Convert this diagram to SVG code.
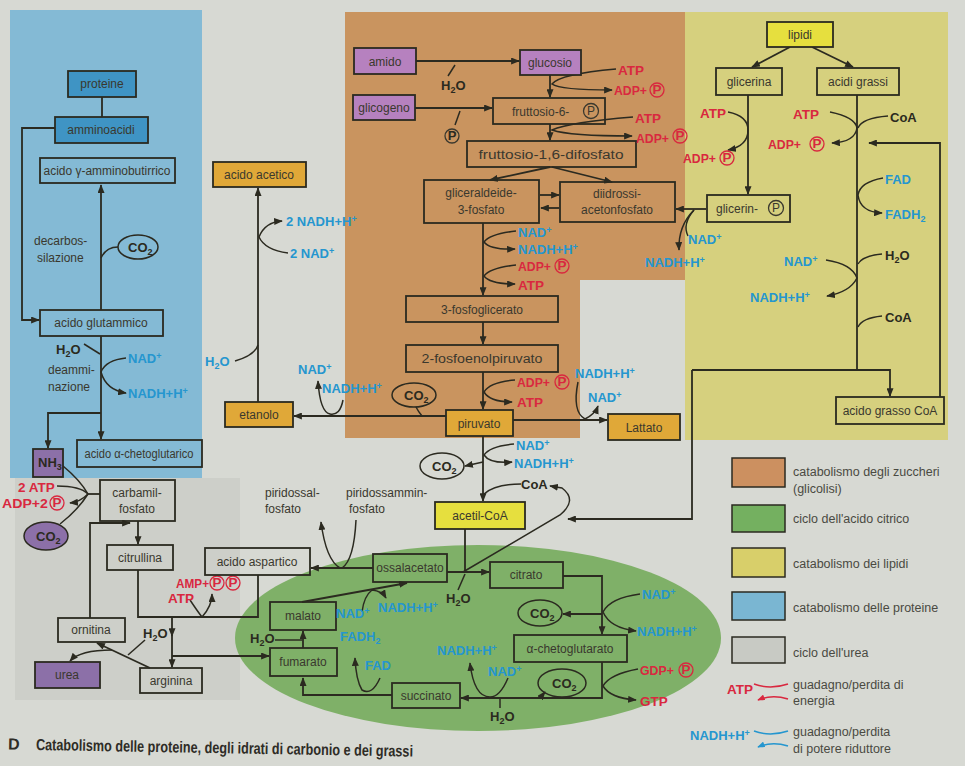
<svg xmlns="http://www.w3.org/2000/svg" width="965" height="766" viewBox="0 0 965 766">
<defs>
<marker id="a" viewBox="0 0 10 8" refX="9" refY="4" markerWidth="9" markerHeight="7" markerUnits="userSpaceOnUse" orient="auto"><path d="M0,0 L10,4 L0,8 z" fill="#2b2a20"/></marker>
<marker id="ar" viewBox="0 0 10 8" refX="9" refY="4" markerWidth="8" markerHeight="6" markerUnits="userSpaceOnUse" orient="auto"><path d="M0,0 L10,4 L0,8 z" fill="#d9283f"/></marker>
<marker id="ab" viewBox="0 0 10 8" refX="9" refY="4" markerWidth="8" markerHeight="6" markerUnits="userSpaceOnUse" orient="auto"><path d="M0,0 L10,4 L0,8 z" fill="#2596cf"/></marker>
</defs>
<style>
.ln{fill:none;stroke:#2b2a20;stroke-width:1.8}
.cf{fill:none;stroke:#2b2a20;stroke-width:1.5}
.bx{fill:none;stroke:#2b2a20;stroke-width:1.8}
.pb{fill:#3f94c4}
.pp{fill:#b681bf}
.pu{fill:#8c70a8}
.po{fill:#e0a838}
.py{fill:#e6df3e}
.t{font-family:"Liberation Sans Narrow","Liberation Sans",Arial,sans-serif;font-size:12px;fill:#3a382e;text-anchor:middle}
.l{font-family:"Liberation Sans Narrow","Liberation Sans",Arial,sans-serif;font-size:12px;fill:#3a382e}
.r{font-family:"Liberation Sans Narrow","Liberation Sans",Arial,sans-serif;font-weight:bold;font-size:13.5px;fill:#d9283f}
.b{font-family:"Liberation Sans Narrow","Liberation Sans",Arial,sans-serif;font-weight:bold;font-size:13px;fill:#2596cf}
.k{font-family:"Liberation Sans Narrow","Liberation Sans",Arial,sans-serif;font-weight:bold;font-size:13px;fill:#2b2a20}
.g{font-family:"Liberation Sans",Arial,sans-serif;font-size:12.5px;fill:#4a4a42}
.pc{fill:none;stroke:#d9283f;stroke-width:1.3}
.pk{fill:none;stroke:#3a382e;stroke-width:1.3}
.s{font-size:9px}
</style>

<!-- background areas -->
<rect x="0" y="0" width="965" height="766" fill="#d7d9d3"/>
<rect x="15" y="478" width="225" height="222" fill="#cdcfc9"/>
<rect x="10" y="10" width="192" height="468" fill="#84bad5"/>
<path d="M345,12 H685 V280 H580 V438 H345 Z" fill="#c9945f"/>
<rect x="685" y="12" width="263" height="428" fill="#d6d07e"/>
<ellipse cx="478" cy="638" rx="243" ry="93" fill="#7fb068"/>

<!-- connectors -->
<g id="connectors">
<path class="ln" d="M102,97 V117"/>
<path class="ln" d="M55,128 H22 V320 H39" marker-end="url(#a)"/>
<path class="ln" d="M101,310 V185" marker-end="url(#a)"/>
<path class="cf" d="M101,258 Q106,247 118,247"/>
<path class="ln" d="M101,336 V439" marker-end="url(#a)"/>
<path class="cf" d="M84,344 L100,354"/>
<path class="cf" d="M126,358 Q106,360 101,372 Q106,390 126,393" marker-end="url(#a)"/>
<path class="ln" d="M101,413 H48 V448" marker-end="url(#a)"/>
<path class="cf" d="M63,466 Q80,480 88,494"/>
<path class="cf" d="M57,486 Q80,486 88,494"/>
<path class="cf" d="M88,494 Q80,502 70,503" marker-end="url(#a)"/>
<path class="cf" d="M60,524 Q78,510 88,494"/>
<path class="ln" d="M88,494 H100"/>
<path class="ln" d="M138,521 V544" marker-end="url(#a)"/>
<path class="ln" d="M90,618 V523 H130" marker-end="url(#a)"/>
<path class="ln" d="M138,570 V617 H258 V575"/>
<path class="cf" d="M190,600 Q198,612 202,617"/>
<path class="cf" d="M202,617 Q212,606 212,594" marker-end="url(#a)"/>
<path class="ln" d="M172,617 V636" marker-end="url(#a)"/>
<path class="ln" d="M172,634 V667" marker-end="url(#a)"/>
<path class="ln" d="M172,656 H269" marker-end="url(#a)"/>
<path class="ln" d="M150,668 L97,643" marker-end="url(#a)"/>
<path class="cf" d="M145,640 L128,655"/>
<path class="cf" d="M112,650 Q80,650 70,661" marker-end="url(#a)"/>
<path class="ln" d="M373,568 H311" marker-end="url(#a)"/>
<path class="cf" d="M340,568 Q326,560 321,522" marker-end="url(#a)"/>
<path class="cf" d="M356,520 Q354,560 342,568"/>
<path class="ln" d="M465,529 V572"/>
<path class="ln" d="M447,572 H489" marker-end="url(#a)"/>
<path class="cf" d="M458,590 L465,574"/>
<path class="cf" d="M463,572 L560,515 Q578,500 562,488 L550,486" marker-end="url(#a)"/>
<path class="ln" d="M692,370 V519 H568" marker-end="url(#a)"/>
<path class="ln" d="M563,576 H602 V634" marker-end="url(#a)"/>
<path class="cf" d="M640,594 Q610,598 603,612 Q610,628 636,631" marker-end="url(#a)"/>
<path class="ln" d="M602,614 H563" marker-end="url(#a)"/>
<path class="ln" d="M602,662 V698 H461" marker-end="url(#a)"/>
<path class="cf" d="M638,669 Q610,674 603,686 Q610,698 636,700" marker-end="url(#a)"/>
<path class="cf" d="M540,698 L545,692" marker-end="url(#a)"/>
<path class="cf" d="M508,678 Q500,697 490,697 Q474,697 470,663" marker-end="url(#a)"/>
<path class="cf" d="M500,708 V699"/>
<path class="ln" d="M392,695 H303 V678" marker-end="url(#a)"/>
<path class="cf" d="M380,678 Q372,696 362,690 Q356,680 355,658" marker-end="url(#a)"/>
<path class="ln" d="M303,648 V631" marker-end="url(#a)"/>
<path class="cf" d="M275,640 H302"/>
<path class="ln" d="M302,602 L407,583" marker-end="url(#a)"/>
<path class="cf" d="M362,612 Q364,596 372,590 Q382,591 386,598" marker-end="url(#a)"/>
<path class="ln" d="M483,436 V501" marker-end="url(#a)"/>
<path class="cf" d="M514,444 Q490,446 484,455 Q490,464 512,462" marker-end="url(#a)"/>
<path class="cf" d="M483,462 L465,466" marker-end="url(#a)"/>
<path class="cf" d="M521,484 Q495,484 484,494"/>
<path class="ln" d="M446,416 H294" marker-end="url(#a)"/>
<path class="cf" d="M422,416 Q418,411 416,407"/>
<path class="cf" d="M343,400 Q340,416 330,414 Q320,412 318,381" marker-end="url(#a)"/>
<path class="ln" d="M258,402 V188" marker-end="url(#a)"/>
<path class="cf" d="M288,253 Q265,250 259,237 Q265,222 282,221" marker-end="url(#a)"/>
<path class="cf" d="M235,361 Q255,355 258,345"/>
<path class="ln" d="M513,420 H607" marker-end="url(#a)"/>
<path class="cf" d="M578,382 Q572,412 585,419 Q595,414 598,406" marker-end="url(#a)"/>
<path class="ln" d="M416,61 H519" marker-end="url(#a)"/>
<path class="cf" d="M455,65 L448,76"/>
<path class="ln" d="M415,108 H492" marker-end="url(#a)"/>
<path class="cf" d="M460,111 L455,125"/>
<path class="ln" d="M550,75 V97" marker-end="url(#a)"/>
<path class="cf" d="M616,69 Q560,74 552,84 Q560,90 612,90" marker-end="url(#a)"/>
<path class="ln" d="M550,124 V140" marker-end="url(#a)"/>
<path class="cf" d="M633,117 Q570,122 552,130 Q570,136 632,136" marker-end="url(#a)"/>
<path class="ln" d="M550,167 L490,180" marker-end="url(#a)"/>
<path class="ln" d="M552,167 L612,182" marker-end="url(#a)"/>
<path class="ln" d="M540,195 H559" marker-end="url(#a)"/>
<path class="ln" d="M559,208 H541" marker-end="url(#a)"/>
<path class="ln" d="M706,209 H676" marker-end="url(#a)"/>
<path class="cf" d="M688,236 Q682,224 694,210"/>
<path class="cf" d="M694,210 Q678,226 679,250" marker-end="url(#a)"/>
<path class="ln" d="M483,223 V295" marker-end="url(#a)"/>
<path class="cf" d="M516,231 Q490,234 484,242 Q490,250 515,249" marker-end="url(#a)"/>
<path class="cf" d="M516,265 Q490,268 484,276 Q490,284 515,284" marker-end="url(#a)"/>
<path class="ln" d="M483,322 V344" marker-end="url(#a)"/>
<path class="ln" d="M483,372 V409" marker-end="url(#a)"/>
<path class="cf" d="M515,380 Q490,382 484,392 Q490,402 512,402" marker-end="url(#a)"/>
<path class="ln" d="M790,47 L752,67" marker-end="url(#a)"/>
<path class="ln" d="M812,47 L853,67" marker-end="url(#a)"/>
<path class="ln" d="M748,95 V194" marker-end="url(#a)"/>
<path class="cf" d="M728,112 Q748,116 748,130 Q748,146 728,150" marker-end="url(#a)"/>
<path class="ln" d="M857,95 V370"/>
<path class="cf" d="M830,112 Q855,117 857,128 Q855,142 832,143" marker-end="url(#a)"/>
<path class="cf" d="M888,116 Q862,118 858,128"/>
<path class="cf" d="M883,178 Q860,182 858,195 Q860,212 882,213" marker-end="url(#a)"/>
<path class="cf" d="M882,254 Q862,256 858,264"/>
<path class="cf" d="M826,260 Q852,264 857,278 Q850,292 827,296" marker-end="url(#a)"/>
<path class="cf" d="M882,316 Q862,318 858,327"/>
<path class="ln" d="M692,370 H890 V396" marker-end="url(#a)"/>
<path class="ln" d="M940,397 V143 H869" marker-end="url(#a)"/>
</g>

<!-- protein nodes -->
<g id="n-proteine"><rect class="bx pb" x="68" y="71" width="68" height="26"/><text class="t" x="102" y="88">proteine</text></g>
<g id="n-amminoacidi"><rect class="bx pb" x="55" y="117" width="93" height="26"/><text class="t" x="101" y="134">amminoacidi</text></g>
<g id="n-gaba"><rect class="bx" x="40" y="158" width="135" height="25"/><text class="t" x="107" y="175" textLength="127" lengthAdjust="spacingAndGlyphs">acido γ-amminobutirrico</text></g>
<g id="n-co2a"><ellipse cx="138" cy="247" rx="20" ry="12" fill="none" stroke="#2b2a20" stroke-width="1.5"/><text class="k" x="128" y="252">CO<tspan class="s" dy="3">2</tspan></text></g>
<text class="l" x="34" y="245">decarbos-</text>
<text class="l" x="37" y="262">silazione</text>
<g id="n-glutammico"><rect class="bx" x="40" y="310" width="123" height="26"/><text class="t" x="101" y="327">acido glutammico</text></g>
<text class="k" x="56" y="354">H<tspan class="s" dy="3">2</tspan><tspan dy="-3">O</tspan></text>
<text class="l" x="48" y="374">deammi-</text>
<text class="l" x="48" y="391">nazione</text>
<text class="b" x="128" y="363">NAD<tspan class="s" dy="-4">+</tspan></text>
<text class="b" x="128" y="398">NADH+H<tspan class="s" dy="-4">+</tspan></text>
<g id="n-chetoglutarico"><rect class="bx" x="77" y="440" width="125" height="27"/><text class="t" x="139" y="458" textLength="109" lengthAdjust="spacingAndGlyphs">acido α-chetoglutarico</text></g>
<g id="n-nh3"><rect class="bx pu" x="33" y="449" width="30" height="28"/><text class="k" x="38" y="467">NH<tspan class="s" dy="3">3</tspan></text></g>

<!-- urea cycle -->
<text class="r" x="18" y="492">2 ATP</text>
<g><text class="r" x="2" y="508" textLength="46" lengthAdjust="spacingAndGlyphs">ADP+2</text><circle class="pc" cx="57" cy="503" r="7"/><text class="r" x="57" y="507" text-anchor="middle" font-size="10">P</text></g>
<g id="n-co2u"><ellipse class="pu" cx="46" cy="536" rx="22" ry="14" stroke="#2b2a20" stroke-width="1.5"/><text class="k" x="36" y="541">CO<tspan class="s" dy="3">2</tspan></text></g>
<g id="n-carbamil"><rect class="bx" x="100" y="480" width="75" height="41"/><text class="t" x="137" y="497">carbamil-</text><text class="t" x="137" y="513">fosfato</text></g>
<g id="n-citrullina"><rect class="bx" x="107" y="545" width="66" height="25"/><text class="t" x="140" y="562">citrullina</text></g>
<g id="n-ornitina"><rect class="bx" x="58" y="618" width="67" height="24"/><text class="t" x="91" y="634">ornitina</text></g>
<g id="n-arginina"><rect class="bx" x="140" y="668" width="62" height="25"/><text class="t" x="171" y="685">arginina</text></g>
<g id="n-urea"><rect class="bx pu" x="35" y="662" width="65" height="26"/><text class="t" x="67" y="679">urea</text></g>
<text class="k" x="143" y="638">H<tspan class="s" dy="3">2</tspan><tspan dy="-3">O</tspan></text>
<g><text class="r" x="176" y="588" textLength="33" lengthAdjust="spacingAndGlyphs">AMP+</text><circle class="pc" cx="217" cy="583" r="7"/><text class="r" x="217" y="587" text-anchor="middle" font-size="10">P</text><circle class="pc" cx="233" cy="583" r="7"/><text class="r" x="233" y="587" text-anchor="middle" font-size="10">P</text></g>
<text class="r" x="168" y="603">ATP</text>

<g id="n-aspartico"><rect class="bx" x="205" y="548" width="105" height="27" fill="#d7d9d3"/><text class="t" x="257" y="566">acido aspartico</text></g>
<text class="l" x="265" y="497">piridossal-</text>
<text class="l" x="265" y="513">fosfato</text>
<text class="l" x="346" y="497">piridossammin-</text>
<text class="l" x="349" y="513">fosfato</text>

<!-- citric cycle -->
<g id="n-ossalacetato"><rect class="bx" x="373" y="554" width="74" height="28"/><text class="t" x="410" y="572">ossalacetato</text></g>
<g id="n-citrato"><rect class="bx" x="490" y="562" width="73" height="26"/><text class="t" x="526" y="579">citrato</text></g>
<g id="n-acheto"><rect class="bx" x="514" y="635" width="113" height="27"/><text class="t" x="570" y="653">α-chetoglutarato</text></g>
<g id="n-succinato"><rect class="bx" x="392" y="683" width="68" height="25"/><text class="t" x="426" y="700">succinato</text></g>
<g id="n-fumarato"><rect class="bx" x="270" y="648" width="67" height="28"/><text class="t" x="303" y="666">fumarato</text></g>
<g id="n-malato"><rect class="bx" x="270" y="602" width="66" height="28"/><text class="t" x="303" y="620">malato</text></g>
<g id="n-acetilcoa"><rect class="bx py" x="435" y="502" width="90" height="27"/><text class="t" x="480" y="520">acetil-CoA</text></g>
<g id="n-co2c1"><ellipse cx="540" cy="613" rx="22" ry="13" fill="none" stroke="#2b2a20" stroke-width="1.5"/><text class="k" x="530" y="618">CO<tspan class="s" dy="3">2</tspan></text></g>
<g id="n-co2c2"><ellipse cx="562" cy="683" rx="24" ry="14" fill="none" stroke="#2b2a20" stroke-width="1.5"/><text class="k" x="552" y="688">CO<tspan class="s" dy="3">2</tspan></text></g>
<text class="k" x="446" y="603">H<tspan class="s" dy="3">2</tspan><tspan dy="-3">O</tspan></text>
<text class="k" x="490" y="721">H<tspan class="s" dy="3">2</tspan><tspan dy="-3">O</tspan></text>
<text class="k" x="250" y="643">H<tspan class="s" dy="3">2</tspan><tspan dy="-3">O</tspan></text>
<text class="k" x="521" y="489">CoA</text>
<text class="b" x="642" y="599">NAD<tspan class="s" dy="-4">+</tspan></text>
<text class="b" x="637" y="636">NADH+H<tspan class="s" dy="-4">+</tspan></text>
<g><text class="r" x="640" y="675" textLength="34" lengthAdjust="spacingAndGlyphs">GDP+</text><circle class="pc" cx="686" cy="670" r="7"/><text class="r" x="686" y="674" text-anchor="middle" font-size="10">P</text></g>
<text class="r" x="640" y="706">GTP</text>
<text class="b" x="437" y="655">NADH+H<tspan class="s" dy="-4">+</tspan></text>
<text class="b" x="488" y="676">NAD<tspan class="s" dy="-4">+</tspan></text>
<text class="b" x="340" y="641">FADH<tspan class="s" dy="3">2</tspan></text>
<text class="b" x="365" y="670">FAD</text>
<text class="b" x="336" y="618">NAD<tspan class="s" dy="-4">+</tspan></text>
<text class="b" x="378" y="612">NADH+H<tspan class="s" dy="-4">+</tspan></text>

<!-- pyruvate area -->
<g id="n-piruvato"><rect class="bx po" x="446" y="410" width="67" height="26"/><text class="t" x="479" y="428">piruvato</text></g>
<g id="n-lattato"><rect class="bx po" x="608" y="414" width="72" height="26"/><text class="t" x="644" y="432">Lattato</text></g>
<g id="n-etanolo"><rect class="bx po" x="225" y="402" width="68" height="25"/><text class="t" x="259" y="419">etanolo</text></g>
<g id="n-acetico"><rect class="bx po" x="213" y="162" width="93" height="25"/><text class="t" x="259" y="179">acido acetico</text></g>
<g id="n-co2p"><ellipse cx="414" cy="395" rx="22" ry="12" fill="none" stroke="#2b2a20" stroke-width="1.5"/><text class="k" x="404" y="400">CO<tspan class="s" dy="3">2</tspan></text></g>
<g id="n-co2d"><ellipse cx="442" cy="466" rx="22" ry="13" fill="none" stroke="#2b2a20" stroke-width="1.5"/><text class="k" x="432" y="471">CO<tspan class="s" dy="3">2</tspan></text></g>
<text class="b" x="516" y="450">NAD<tspan class="s" dy="-4">+</tspan></text>
<text class="b" x="514" y="468">NADH+H<tspan class="s" dy="-4">+</tspan></text>
<text class="b" x="298" y="374">NAD<tspan class="s" dy="-4">+</tspan></text>
<text class="b" x="322" y="393">NADH+H<tspan class="s" dy="-4">+</tspan></text>
<text class="b" x="286" y="226">2 NADH+H<tspan class="s" dy="-4">+</tspan></text>
<text class="b" x="290" y="258">2 NAD<tspan class="s" dy="-4">+</tspan></text>
<text class="b" x="205" y="366">H<tspan class="s" dy="3">2</tspan><tspan dy="-3">O</tspan></text>
<text class="b" x="575" y="378">NADH+H<tspan class="s" dy="-4">+</tspan></text>
<text class="b" x="588" y="402">NAD<tspan class="s" dy="-4">+</tspan></text>

<!-- glycolysis nodes -->
<g id="n-amido"><rect class="bx pp" x="354" y="48" width="62" height="26"/><text class="t" x="385" y="66">amido</text></g>
<g id="n-glucosio"><rect class="bx pp" x="520" y="50" width="61" height="25"/><text class="t" x="550" y="67">glucosio</text></g>
<g id="n-glicogeno"><rect class="bx pp" x="353" y="95" width="62" height="25"/><text class="t" x="384" y="112">glicogeno</text></g>
<text class="k" x="441" y="90">H<tspan class="s" dy="3">2</tspan><tspan dy="-3">O</tspan></text>
<g><circle class="pk" cx="452" cy="136" r="7"/><text class="k" x="452" y="140" text-anchor="middle" font-size="10">P</text></g>
<g id="n-f6p"><rect class="bx" x="493" y="98" width="112" height="26"/><text class="l" x="512" y="116">fruttosio-6-</text><circle class="pk" cx="591" cy="111" r="7.5"/><text class="t" x="591" y="115" font-size="10">P</text></g>
<g id="n-f16"><rect class="bx" x="467" y="141" width="169" height="26"/><text class="t" x="551" y="159" textLength="145" lengthAdjust="spacingAndGlyphs">fruttosio-1,6-difosfato</text></g>
<g id="n-g3p"><rect class="bx" x="424" y="180" width="115" height="43"/><text class="t" x="481" y="197">gliceraldeide-</text><text class="t" x="481" y="214">3-fosfato</text></g>
<g id="n-dhap"><rect class="bx" x="560" y="182" width="115" height="40"/><text class="t" x="617" y="198">diidrossi-</text><text class="t" x="617" y="214">acetonfosfato</text></g>
<g id="n-3pg"><rect class="bx" x="406" y="296" width="152" height="26"/><text class="t" x="482" y="314">3-fosfoglicerato</text></g>
<g id="n-pep"><rect class="bx" x="406" y="345" width="152" height="27"/><text class="t" x="482" y="363" textLength="121" lengthAdjust="spacingAndGlyphs">2-fosfoenolpiruvato</text></g>
<text class="r" x="618" y="75">ATP</text>
<g><text class="r" x="614" y="95" textLength="33" lengthAdjust="spacingAndGlyphs">ADP+</text><circle class="pc" cx="657" cy="90" r="7"/><text class="r" x="657" y="94" text-anchor="middle" font-size="10">P</text></g>
<text class="r" x="635" y="123">ATP</text>
<g><text class="r" x="636" y="143" textLength="33" lengthAdjust="spacingAndGlyphs">ADP+</text><circle class="pc" cx="680" cy="136" r="7"/><text class="r" x="680" y="140" text-anchor="middle" font-size="10">P</text></g>
<text class="b" x="518" y="237">NAD<tspan class="s" dy="-4">+</tspan></text>
<text class="b" x="518" y="254">NADH+H<tspan class="s" dy="-4">+</tspan></text>
<g><text class="r" x="518" y="271" textLength="33" lengthAdjust="spacingAndGlyphs">ADP+</text><circle class="pc" cx="562" cy="266" r="7"/><text class="r" x="562" y="270" text-anchor="middle" font-size="10">P</text></g>
<text class="r" x="518" y="290">ATP</text>
<g><text class="r" x="517" y="387" textLength="33" lengthAdjust="spacingAndGlyphs">ADP+</text><circle class="pc" cx="562" cy="382" r="7"/><text class="r" x="562" y="386" text-anchor="middle" font-size="10">P</text></g>
<text class="r" x="517" y="407">ATP</text>
<text class="b" x="688" y="244">NAD<tspan class="s" dy="-4">+</tspan></text>
<text class="b" x="645" y="267">NADH+H<tspan class="s" dy="-4">+</tspan></text>

<!-- lipid nodes -->
<g id="n-lipidi"><rect class="bx py" x="767" y="22" width="66" height="25"/><text class="t" x="800" y="39">lipidi</text></g>
<g id="n-glicerina"><rect class="bx" x="716" y="68" width="66" height="27"/><text class="t" x="749" y="86">glicerina</text></g>
<g id="n-acidigrassi"><rect class="bx" x="817" y="68" width="82" height="27"/><text class="t" x="858" y="86">acidi grassi</text></g>
<g id="n-glicerinp"><rect class="bx" x="707" y="195" width="83" height="27"/><text class="l" x="716" y="213">glicerin-</text><circle class="pk" cx="776" cy="208" r="7.5"/><text class="t" x="776" y="212" font-size="10">P</text></g>
<g id="n-acidograssocoa"><rect class="bx" x="836" y="397" width="108" height="27"/><text class="t" x="890" y="415">acido grasso CoA</text></g>
<text class="r" x="700" y="118">ATP</text>
<g><text class="r" x="683" y="163" textLength="33" lengthAdjust="spacingAndGlyphs">ADP+</text><circle class="pc" cx="727" cy="158" r="7"/><text class="r" x="727" y="162" text-anchor="middle" font-size="10">P</text></g>
<text class="r" x="793" y="119">ATP</text>
<text class="k" x="890" y="122">CoA</text>
<g><text class="r" x="768" y="149" textLength="33" lengthAdjust="spacingAndGlyphs">ADP+</text><circle class="pc" cx="817" cy="144" r="7"/><text class="r" x="817" y="148" text-anchor="middle" font-size="10">P</text></g>
<text class="b" x="885" y="184">FAD</text>
<text class="b" x="885" y="219">FADH<tspan class="s" dy="3">2</tspan></text>
<text class="k" x="885" y="260">H<tspan class="s" dy="3">2</tspan><tspan dy="-3">O</tspan></text>
<text class="b" x="784" y="266">NAD<tspan class="s" dy="-4">+</tspan></text>
<text class="b" x="750" y="302">NADH+H<tspan class="s" dy="-4">+</tspan></text>
<text class="k" x="885" y="322">CoA</text>

<!-- legend -->
<g id="legend">
<rect x="732" y="458" width="53" height="29" fill="#cc9060" stroke="#2b2a20" stroke-width="1.5"/>
<rect x="732" y="505" width="53" height="27" fill="#74b060" stroke="#2b2a20" stroke-width="1.5"/>
<rect x="732" y="548" width="53" height="29" fill="#d8cf6a" stroke="#2b2a20" stroke-width="1.5"/>
<rect x="732" y="592" width="53" height="28" fill="#7ab6d2" stroke="#2b2a20" stroke-width="1.5"/>
<rect x="732" y="637" width="53" height="26" fill="#c8cac4" stroke="#2b2a20" stroke-width="1.5"/>
<text class="g" x="793" y="476">catabolismo degli zuccheri</text>
<text class="g" x="793" y="493">(glicolisi)</text>
<text class="g" x="793" y="523">ciclo dell'acido citrico</text>
<text class="g" x="793" y="568">catabolismo dei lipidi</text>
<text class="g" x="793" y="612">catabolismo delle proteine</text>
<text class="g" x="793" y="657">ciclo dell'urea</text>
<text class="r" x="727" y="694">ATP</text>
<path d="M754,684 Q770,690 788,684" fill="none" stroke="#d9283f" stroke-width="1.6"/>
<path d="M788,699 Q772,694 758,700" fill="none" stroke="#d9283f" stroke-width="1.6" marker-end="url(#ar)"/>
<text class="g" x="793" y="689">guadagno/perdita di</text>
<text class="g" x="793" y="705">energia</text>
<text class="b" x="690" y="740">NADH+H<tspan class="s" dy="-4">+</tspan></text>
<path d="M754,731 Q770,737 788,731" fill="none" stroke="#2596cf" stroke-width="1.6"/>
<path d="M788,746 Q772,741 758,747" fill="none" stroke="#2596cf" stroke-width="1.6" marker-end="url(#ab)"/>
<text class="g" x="793" y="736">guadagno/perdita</text>
<text class="g" x="793" y="753">di potere riduttore</text>
</g>

<!-- title -->
<g transform="rotate(1 36 748)">
<text x="8" y="750" font-family="Liberation Sans, Arial, sans-serif" font-weight="bold" font-size="16" fill="#2e2c26">D</text>
<text x="36" y="750" font-family="Liberation Sans, Arial, sans-serif" font-weight="bold" font-size="16" fill="#2e2c26" textLength="377" lengthAdjust="spacingAndGlyphs">Catabolismo delle proteine, degli idrati di carbonio e dei grassi</text>
</g>
</svg>
